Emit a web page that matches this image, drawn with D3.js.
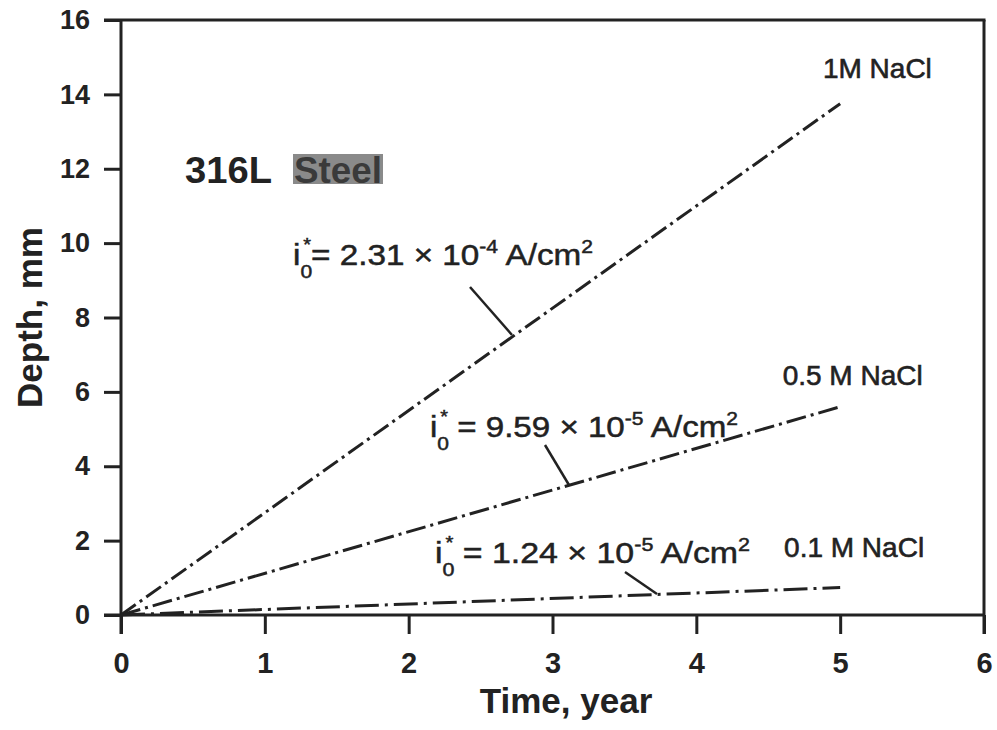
<!DOCTYPE html>
<html>
<head>
<meta charset="utf-8">
<script src="https://cdn.jsdelivr.net/npm/d3@7"></script>
<style>
  html, body { margin: 0; padding: 0; background: #fff; }
  svg { display: block; }
  text { font-family: "Liberation Sans", Arial, Helvetica, sans-serif; fill: #222; }
</style>
</head>
<body>
<svg id="chart" width="997" height="730"></svg>
<script>
// Pit depth vs. time for 316L steel in NaCl solutions
const times = [0, 5];
const depth1M = [0, 13.75];
const depth05M = [0, 5.6];
const depth01M = [0, 0.74];
const seriesNames = ["1M NaCl", "0.5 M NaCl", "0.1 M NaCl"];
const currentLabels = ["2.31", "9.59", "1.24"];
const currentExponents = ["-4", "-5", "-5"];
const xTicks = [0, 1, 2, 3, 4, 5, 6];
const yTicks = [0, 2, 4, 6, 8, 10, 12, 14, 16];

const svg = d3.select("#chart");
const x = d3.scaleLinear().domain([0, 6]).range([121, 984]);
const y = d3.scaleLinear().domain([0, 16]).range([615, 20]);
const ink = "#222";

// axes
const yAxis = d3.axisLeft(y).tickValues(yTicks).tickFormat(d3.format("d"))
  .tickSizeInner(17).tickSizeOuter(0).tickPadding(14);
const gy = svg.append("g").attr("transform", `translate(${x(0)},0)`).call(yAxis);
gy.select(".domain").remove();
gy.selectAll(".tick line").attr("stroke", ink).attr("stroke-width", 3);
gy.selectAll(".tick text").attr("font-size", 27).attr("font-weight", "bold").attr("fill", ink)
  .style("font-family", "'Liberation Sans', Arial, sans-serif");

const xAxis = d3.axisBottom(x).tickValues(xTicks).tickFormat(d3.format("d"))
  .tickSizeInner(19).tickSizeOuter(0).tickPadding(18);
const gx = svg.append("g").attr("transform", `translate(0,${y(0)})`).call(xAxis);
gx.select(".domain").remove();
gx.selectAll(".tick line").attr("stroke", ink).attr("stroke-width", 3);
gx.selectAll(".tick text").attr("font-size", 29).attr("font-weight", "bold").attr("fill", ink)
  .style("font-family", "'Liberation Sans', Arial, sans-serif");

// frame
const frame = svg.append("g").attr("stroke", ink).attr("stroke-width", 3).attr("fill", "none");
frame.append("line").attr("x1", x(0)).attr("x2", x(0)).attr("y1", y(16)).attr("y2", y(0) + 19);
frame.append("line").attr("x1", x(0) - 17).attr("x2", x(6)).attr("y1", y(0)).attr("y2", y(0));
frame.append("line").attr("x1", x(0) - 17).attr("x2", x(6) + 1.5).attr("y1", y(16)).attr("y2", y(16));
frame.append("line").attr("x1", x(6)).attr("x2", x(6)).attr("y1", y(16)).attr("y2", y(0) + 19);

// axis titles
svg.append("text").attr("x", 566).attr("y", 713).attr("text-anchor", "middle")
  .attr("font-size", 35).attr("font-weight", "bold").text("Time, year");
svg.append("text").attr("transform", `translate(42,${(y(0) + y(16)) / 2}) rotate(-90)`)
  .attr("text-anchor", "middle").attr("font-size", 35).attr("font-weight", "bold").text("Depth, mm");

// depth lines
const series = [
  { vals: depth1M, dash: "18,5,3,5" },
  { vals: depth05M, dash: "20,5,3,5" },
  { vals: depth01M, dash: "24,6,3,6" }
];
const line = d3.line().x((d, i) => x(times[i])).y(d => y(d));
svg.append("g").selectAll("path").data(series).join("path")
  .attr("d", d => line(d.vals))
  .attr("fill", "none").attr("stroke", ink).attr("stroke-width", 3)
  .attr("stroke-dasharray", d => d.dash);

// series name labels
const nameAnchors = [[4.88, 78], [4.60, 385], [4.61, 557]];
svg.append("g").selectAll("text").data(seriesNames).join("text")
  .attr("x", (d, i) => x(nameAnchors[i][0]))
  .attr("y", (d, i) => nameAnchors[i][1])
  .attr("font-size", 28).attr("stroke", ink).attr("stroke-width", 0.6)
  .text(d => d);

// exchange current density labels
const labelAnchors = [[293, 265, 300, false], [430, 437, 308, true], [435, 563, 315, true]];
currentLabels.forEach((v, i) => {
  const [lx, ly, len, spaced] = labelAnchors[i];
  const t = svg.append("text").attr("x", lx).attr("y", ly).attr("font-size", 30)
    .attr("stroke", ink).attr("stroke-width", 0.5)
    .attr("textLength", len).attr("lengthAdjust", "spacingAndGlyphs");
  t.append("tspan").text("i");
  t.append("tspan").attr("dy", 13).attr("font-size", 19).text("0");
  t.append("tspan").attr("dx", -8).attr("dy", -27).attr("font-size", 18).text("*");
  t.append("tspan").attr("dy", 14).text((spaced ? " = " : "= ") + v + " \u00d7 10");
  t.append("tspan").attr("dy", -12).attr("font-size", 19).text(currentExponents[i]);
  t.append("tspan").attr("dy", 12).text(" A/cm");
  t.append("tspan").attr("dy", -12).attr("font-size", 19).text("2");
});

// leader lines from labels to curves
const leaders = [[470, 287, 512, 335], [545, 445, 569, 485], [625, 572, 657, 594]];
svg.append("g").selectAll("line").data(leaders).join("line")
  .attr("x1", d => d[0]).attr("y1", d => d[1]).attr("x2", d => d[2]).attr("y2", d => d[3])
  .attr("stroke", ink).attr("stroke-width", 2.5);

// material label
svg.append("text").attr("x", 185).attr("y", 183).attr("font-size", 37).attr("font-weight", "bold")
  .attr("textLength", 87).attr("lengthAdjust", "spacingAndGlyphs").text("316L");
svg.append("rect").attr("x", 293).attr("y", 154).attr("width", 90).attr("height", 30).attr("fill", "#8a8a8a");
svg.append("text").attr("x", 294).attr("y", 183).attr("font-size", 37).attr("font-weight", "bold")
  .attr("fill", "#3a3a3a").style("fill", "#3a3a3a")
  .attr("textLength", 88).attr("lengthAdjust", "spacingAndGlyphs").text("Steel");
</script>
</body>
</html>
